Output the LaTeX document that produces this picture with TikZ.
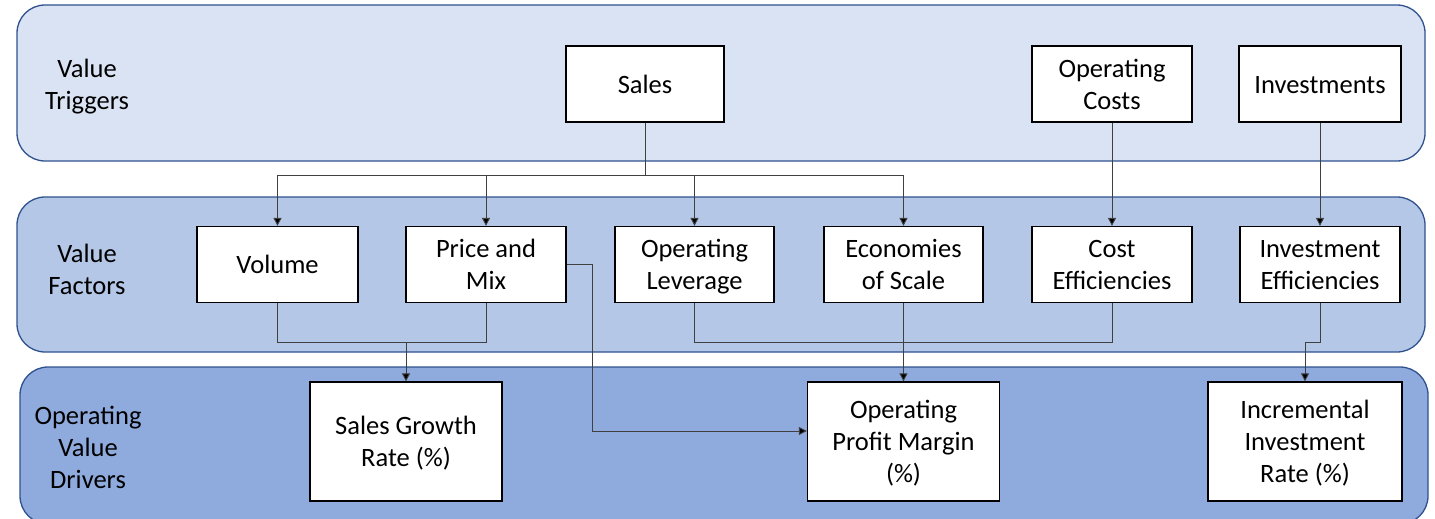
\documentclass[tikz,border=0pt]{standalone}
\usepackage{fontspec}
\setmainfont{Carlito}
\usetikzlibrary{arrows.meta,calc}
\definecolor{bandA}{HTML}{DAE3F3}
\definecolor{bandB}{HTML}{B4C7E7}
\definecolor{bandC}{HTML}{8FAADC}
\definecolor{bandline}{HTML}{2F528F}
\definecolor{wire}{HTML}{404040}
\begin{document}
\begin{tikzpicture}[x=1pt,y=-1pt,
  every node/.style={font=\fontsize{26.5}{32}\selectfont, text=black,
                     text height=24pt, text depth=6pt},
  % text box heights for two and three lines of 32pt spacing
  twolines/.style={text height=56pt},
  threelines/.style={text height=88pt},
  band/.style={draw=bandline, line width=1.3pt, rounded corners=28pt},
  item/.style={draw=black, fill=white, line width=1.3pt, align=center,
               minimum height=76pt, inner sep=0pt},
  result/.style={item, minimum height=119pt},
  tag/.style={align=center},
  wire/.style={draw=wire, line width=0.9pt},
  conn/.style={wire, -{Triangle[length=8pt,width=8pt,fill=black]}}
]
\useasboundingbox (0,0) rectangle (1435,519);
\clip (0,0) rectangle (1435,519);

% background bands
\draw[band, fill=bandA] (17,5) rectangle (1425,161);
\draw[band, fill=bandB] (17,197) rectangle (1425,352);
\draw[band, fill=bandC] (20,367) rectangle (1428,524);

% band captions
\node[tag, twolines] (capA) at (87,84) {Value\\Triggers};
\node[tag, twolines] (capB) at (87,269) {Value\\Factors};
\node[tag, threelines] (capC) at (88,447) {Operating\\Value\\Drivers};

% value triggers
\node[item, minimum width=158pt] (sales)  at (645,84)  {Sales};
\node[item, twolines, minimum width=160pt] (opcost) at (1112,84) {Operating\\Costs};
\node[item, minimum width=162pt] (invest) at (1320,84) {Investments};

% value factors
\node[item, minimum width=161pt] (volume)  at (277.5,264.5) {Volume};
\node[item, twolines, minimum width=160pt] (price)   at (486,264.5)   {Price and\\Mix};
\node[item, twolines, minimum width=159pt] (oplev)   at (694.5,264.5) {Operating\\Leverage};
\node[item, twolines, minimum width=159pt] (econ)    at (903.5,264.5) {Economies\\of Scale};
\node[item, twolines, minimum width=160pt] (costeff) at (1112,264.5)  {Cost\\Efficiencies};
\node[item, twolines, minimum width=160pt] (inveff)  at (1320,264.5)  {Investment\\Efficiencies};

% operating value drivers
\node[result, twolines, minimum width=192pt] (sgr) at (406,441.5)  {Sales Growth\\Rate (\%)};
\node[result, threelines, minimum width=192pt] (opm) at (903.5,441.5)  {Operating\\Profit Margin\\(\%)};
\node[result, threelines, minimum width=194pt] (iir) at (1305,441.5) {Incremental\\Investment\\Rate (\%)};

% junction points
\coordinate (split) at (645,175);
\coordinate (joinA) at (406,342);
\coordinate (joinB) at (0,342);

% sales fan-out
\draw[wire] (sales.south) -- (split);
\draw[conn] (split) -| (volume.north);
\draw[conn] (split) -| (price.north);
\draw[conn] (split) -| (oplev.north);
\draw[conn] (split) -| (econ.north);

% costs and investments
\draw[conn] (opcost.south) -- (costeff.north);
\draw[conn] (invest.south) -- (inveff.north);

% volume and price into sales growth
\draw[wire] (volume.south) |- (price.south |- joinA) -- (price.south);
\draw[conn] (joinA) -- (sgr.north);

% margin inputs
\draw[wire] (oplev.south) |- (costeff.south |- joinB) -- (costeff.south);
\draw[conn] (econ.south) -- (opm.north);
\draw[conn] (price.east) -- ++(26,0) |- ($(opm.west)+(0,-10.5)$);

% investment efficiencies into incremental rate
\draw[conn] (inveff.south) -- (inveff.south |- joinB) -| (iir.north);
\end{tikzpicture}
\end{document}
